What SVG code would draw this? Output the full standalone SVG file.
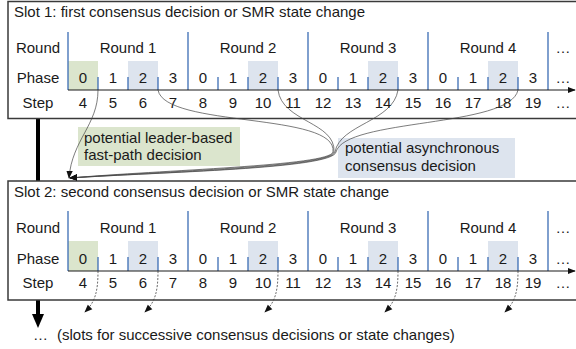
<svg xmlns="http://www.w3.org/2000/svg" width="576" height="349" viewBox="0 0 576 349">
<style>
text{font-family:"Liberation Sans",Arial,sans-serif;font-size:15px;fill:#1a1a1a}
.c{text-anchor:middle}
.box{fill:#fff;stroke:#3a3a3a;stroke-width:1.5}
.rl{stroke:#3c6db4;stroke-width:1.3}
.g{fill:#dbe5cd}
.b{fill:#dde4ee}
.ax{stroke:#1a1a1a;stroke-width:1.2;fill:none}
.cur{stroke:#444;stroke-width:0.7;fill:none}
.dash{stroke:#444;stroke-width:0.8;fill:none;stroke-dasharray:2,1.5}
</style>
<defs>
<marker id="ah" viewBox="0 0 10 10" refX="9" refY="5" markerWidth="8" markerHeight="8" orient="auto" markerUnits="userSpaceOnUse"><path d="M0,1 L10,5 L0,9 z" fill="#111"/></marker>
<marker id="axh" viewBox="0 0 10 10" refX="9" refY="5" markerWidth="8" markerHeight="8" orient="auto" markerUnits="userSpaceOnUse"><path d="M0,1 L10,5 L0,9 z" fill="#111"/></marker>
</defs>

<g id="flow">
<line x1="38" y1="119" x2="38" y2="181" stroke="#000" stroke-width="4"/>
<line x1="38" y1="300" x2="38" y2="315" stroke="#000" stroke-width="4"/>
<path d="M32,314 L44,314 L38,328 z" fill="#000"/>
</g>

<g id="slot1">
<rect class="box" x="8" y="1.5" width="570" height="117"/>
<text x="14" y="17">Slot 1: first consensus decision or SMR state change</text>
<rect class="g" x="68" y="61" width="30" height="29"/>
<rect class="b" x="128" y="61" width="30" height="29"/>
<rect class="b" x="248" y="61" width="30" height="29"/>
<rect class="b" x="368" y="61" width="30" height="29"/>
<rect class="b" x="488" y="61" width="30" height="29"/>
<path class="rl" d="M68,32V90M188,32V90M308,32V90M428,32V90M548,32V90M98,77V90M128,77V90M158,77V90M218,77V90M248,77V90M278,77V90M338,77V90M368,77V90M398,77V90M458,77V90M488,77V90M518,77V90"/>
<line class="ax" x1="68" y1="90" x2="575" y2="90" marker-end="url(#axh)"/>
<text class="c" x="38" y="53">Round</text>
<text class="c" x="38" y="83">Phase</text>
<text class="c" x="38" y="108">Step</text>
<text class="c" x="128" y="53">Round 1</text>
<text class="c" x="248" y="53">Round 2</text>
<text class="c" x="368" y="53">Round 3</text>
<text class="c" x="488" y="53">Round 4</text>
<text class="c" x="563" y="53">…</text>
<text class="c" x="83" y="83">0</text><text class="c" x="113" y="83">1</text><text class="c" x="143" y="83">2</text><text class="c" x="173" y="83">3</text>
<text class="c" x="203" y="83">0</text><text class="c" x="233" y="83">1</text><text class="c" x="263" y="83">2</text><text class="c" x="293" y="83">3</text>
<text class="c" x="323" y="83">0</text><text class="c" x="353" y="83">1</text><text class="c" x="383" y="83">2</text><text class="c" x="413" y="83">3</text>
<text class="c" x="443" y="83">0</text><text class="c" x="473" y="83">1</text><text class="c" x="503" y="83">2</text><text class="c" x="533" y="83">3</text>
<text class="c" x="563" y="83">…</text>
<text class="c" x="83" y="108">4</text><text class="c" x="113" y="108">5</text><text class="c" x="143" y="108">6</text><text class="c" x="173" y="108">7</text>
<text class="c" x="203" y="108">8</text><text class="c" x="233" y="108">9</text><text class="c" x="263" y="108">10</text><text class="c" x="293" y="108">11</text>
<text class="c" x="323" y="108">12</text><text class="c" x="353" y="108">13</text><text class="c" x="383" y="108">14</text><text class="c" x="413" y="108">15</text>
<text class="c" x="443" y="108">16</text><text class="c" x="473" y="108">17</text><text class="c" x="503" y="108">18</text><text class="c" x="533" y="108">19</text>
<text class="c" x="563" y="108">…</text>
</g>

<g id="label-fast">
<rect class="g" x="78" y="127" width="162" height="39"/>
<text x="84" y="143">potential leader-based</text>
<text x="84" y="160">fast-path decision</text>
</g>

<g id="label-async">
<rect class="b" x="338" y="138" width="177" height="40"/>
<text x="345" y="153">potential asynchronous</text>
<text x="345" y="171">consensus decision</text>
</g>

<g id="slot2">
<rect class="box" x="8" y="181" width="570" height="119"/>
<text x="14" y="197">Slot 2: second consensus decision or SMR state change</text>
<rect class="g" x="68" y="241" width="30" height="30"/>
<rect class="b" x="128" y="241" width="30" height="30"/>
<rect class="b" x="248" y="241" width="30" height="30"/>
<rect class="b" x="368" y="241" width="30" height="30"/>
<rect class="b" x="488" y="241" width="30" height="30"/>
<path class="rl" d="M68,211V271M188,211V271M308,211V271M428,211V271M548,211V271M98,257V271M128,257V271M158,257V271M218,257V271M248,257V271M278,257V271M338,257V271M368,257V271M398,257V271M458,257V271M488,257V271M518,257V271"/>
<line class="ax" x1="68" y1="271" x2="575" y2="271" marker-end="url(#axh)"/>
<text class="c" x="38" y="233">Round</text>
<text class="c" x="38" y="264">Phase</text>
<text class="c" x="38" y="288">Step</text>
<text class="c" x="128" y="233">Round 1</text>
<text class="c" x="248" y="233">Round 2</text>
<text class="c" x="368" y="233">Round 3</text>
<text class="c" x="488" y="233">Round 4</text>
<text class="c" x="563" y="233">…</text>
<text class="c" x="83" y="264">0</text><text class="c" x="113" y="264">1</text><text class="c" x="143" y="264">2</text><text class="c" x="173" y="264">3</text>
<text class="c" x="203" y="264">0</text><text class="c" x="233" y="264">1</text><text class="c" x="263" y="264">2</text><text class="c" x="293" y="264">3</text>
<text class="c" x="323" y="264">0</text><text class="c" x="353" y="264">1</text><text class="c" x="383" y="264">2</text><text class="c" x="413" y="264">3</text>
<text class="c" x="443" y="264">0</text><text class="c" x="473" y="264">1</text><text class="c" x="503" y="264">2</text><text class="c" x="533" y="264">3</text>
<text class="c" x="563" y="264">…</text>
<text class="c" x="83" y="288">4</text><text class="c" x="113" y="288">5</text><text class="c" x="143" y="288">6</text><text class="c" x="173" y="288">7</text>
<text class="c" x="203" y="288">8</text><text class="c" x="233" y="288">9</text><text class="c" x="263" y="288">10</text><text class="c" x="293" y="288">11</text>
<text class="c" x="323" y="288">12</text><text class="c" x="353" y="288">13</text><text class="c" x="383" y="288">14</text><text class="c" x="413" y="288">15</text>
<text class="c" x="443" y="288">16</text><text class="c" x="473" y="288">17</text><text class="c" x="503" y="288">18</text><text class="c" x="533" y="288">19</text>
<text class="c" x="563" y="288">…</text>
</g>

<g id="connectors">
<path class="cur" d="M98,90 C98,125 72,140 69,178" marker-end="url(#ah)"/>
<path class="cur" d="M158,90 C165,128 338,112 333,152 C330,166 160,170 70,178" marker-end="url(#ah)"/>
<path class="cur" d="M278,90 C282,122 336,122 334,152 C331,167 160,171 70,178" marker-end="url(#ah)"/>
<path class="cur" d="M398,90 C393,122 340,124 335,152 C332,168 160,172 70,178" marker-end="url(#ah)"/>
<path class="cur" d="M518,90 C510,128 345,118 336,152 C333,169 160,172 70,178" marker-end="url(#ah)"/>
<path class="dash" d="M98,271 C98,292 95,302 85,312" marker-end="url(#ah)"/>
<path class="dash" d="M158,271 C158,292 155,302 145,312" marker-end="url(#ah)"/>
<path class="dash" d="M278,271 C278,292 275,302 265,312" marker-end="url(#ah)"/>
<path class="dash" d="M398,271 C398,292 395,302 385,312" marker-end="url(#ah)"/>
<path class="dash" d="M518,271 C518,292 515,302 505,312" marker-end="url(#ah)"/>
</g>

<g id="footer">
<text x="33" y="340">…</text>
<text x="57" y="340">(slots for successive consensus decisions or state changes)</text>
</g>
</svg>
